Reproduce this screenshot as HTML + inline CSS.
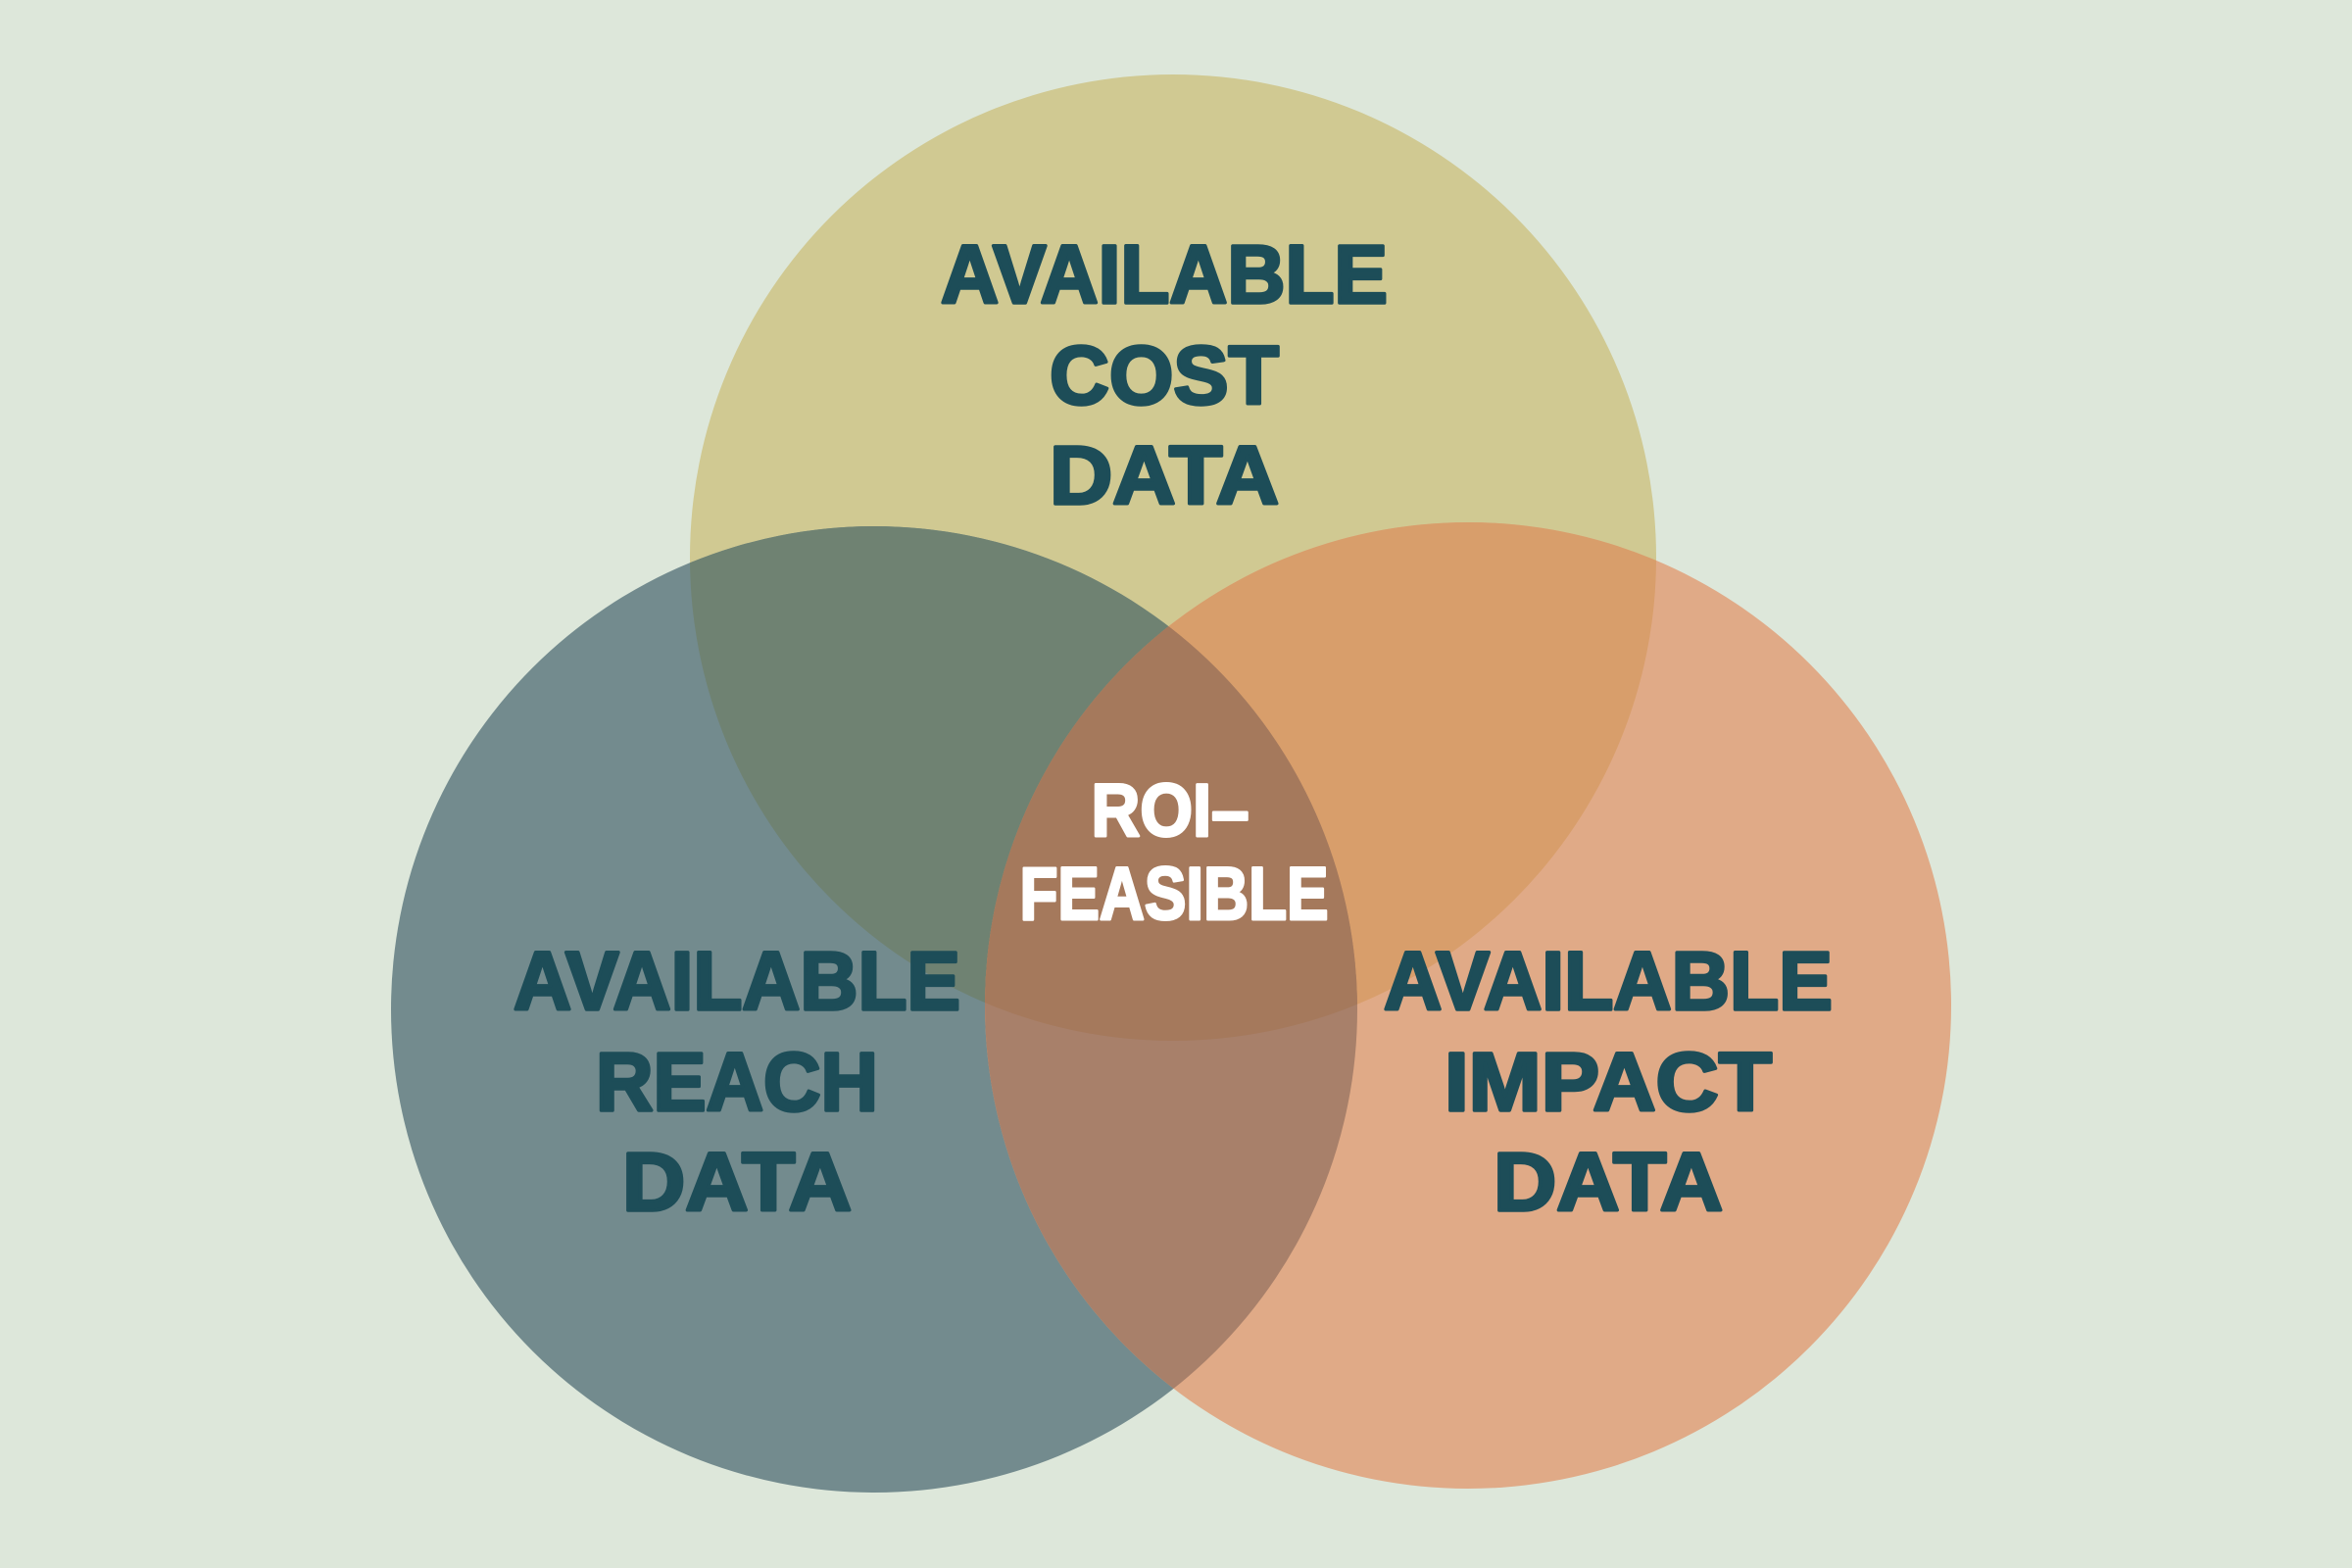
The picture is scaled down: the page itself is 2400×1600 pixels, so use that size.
<!DOCTYPE html>
<html><head><meta charset="utf-8"><style>
html,body{margin:0;padding:0;background:#dde7da;}
svg{display:block}
text{font-family:"Liberation Sans",sans-serif;font-weight:bold;text-anchor:middle}
</style></head><body>
<svg width="2400" height="1600" viewBox="0 0 2400 1600" xmlns="http://www.w3.org/2000/svg">
<defs>
<clipPath id="cT"><circle cx="1197" cy="569" r="493"/></clipPath>
<clipPath id="cL"><circle cx="892" cy="1030" r="493"/></clipPath>
<clipPath id="cR"><circle cx="1498" cy="1026" r="493"/></clipPath>
</defs>
<rect width="2400" height="1600" fill="#dde7da"/>
<circle cx="1197" cy="569" r="493" fill="#d0c992"/>
<circle cx="892" cy="1030" r="493" fill="#738b8e"/>
<circle cx="1498" cy="1026" r="493" fill="#e0aa87"/>
<g clip-path="url(#cT)"><circle cx="892" cy="1030" r="493" fill="#6f8272"/><circle cx="1498" cy="1026" r="493" fill="#d89e6b"/></g>
<g clip-path="url(#cL)"><circle cx="1498" cy="1026" r="493" fill="#a8806a"/></g>
<g clip-path="url(#cT)"><g clip-path="url(#cL)"><circle cx="1498" cy="1026" r="493" fill="#a5795c"/></g></g>
<g fill="#1d4d58" stroke="#1d4d58" stroke-width="3.5" stroke-linejoin="round" font-size="84">
<text x="1188" y="309" textLength="456" lengthAdjust="spacingAndGlyphs">AVAILABLE</text>
<text x="1188" y="412" textLength="234" lengthAdjust="spacingAndGlyphs">COST</text>
<text x="1188" y="514" textLength="234" lengthAdjust="spacingAndGlyphs">DATA</text>
<text x="752" y="1030" textLength="456" lengthAdjust="spacingAndGlyphs">AVAILABLE</text>
<text x="752" y="1133" textLength="288" lengthAdjust="spacingAndGlyphs">REACH</text>
<text x="752" y="1235" textLength="234" lengthAdjust="spacingAndGlyphs">DATA</text>
<text x="1641" y="1030" textLength="458" lengthAdjust="spacingAndGlyphs">AVAILABLE</text>
<text x="1641" y="1133" textLength="334" lengthAdjust="spacingAndGlyphs">IMPACT</text>
<text x="1641" y="1235" textLength="234" lengthAdjust="spacingAndGlyphs">DATA</text>
</g>
<g fill="#ffffff" stroke="#ffffff" stroke-width="3" stroke-linejoin="round" font-size="76">
<text x="1194" y="853" textLength="161" lengthAdjust="spacingAndGlyphs">ROI–</text>
<text x="1198" y="938" textLength="315" lengthAdjust="spacingAndGlyphs">FEASIBLE</text>
</g>
</svg>
</body></html>
